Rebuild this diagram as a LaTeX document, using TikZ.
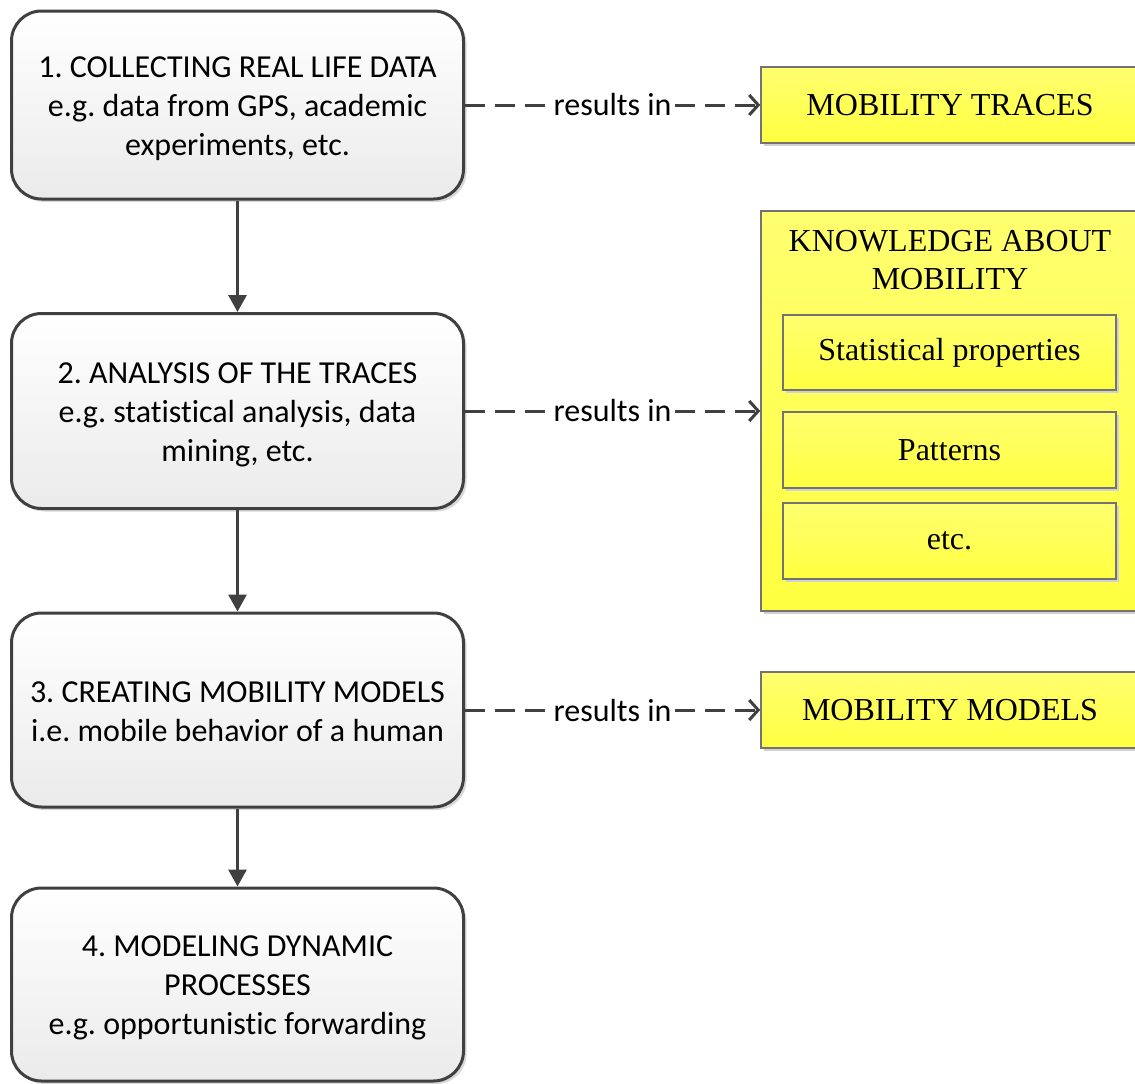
\documentclass[tikz,border=0pt]{standalone}
\usepackage{fontspec}
\setmainfont{Liberation Serif}
\newfontfamily\calib[Ligatures=NoCommon]{Carlito}
\usetikzlibrary{arrows.meta,shadows}
\frenchspacing
\definecolor{edge}{HTML}{404040}
\definecolor{ytop}{HTML}{FFFF70}
\definecolor{ybot}{HTML}{FFFF40}
\tikzset{
  stepbox/.style={rounded corners=30pt, draw=edge, line width=3pt,
    top color=white, bottom color=black!8,
    drop shadow={shadow xshift=3pt, shadow yshift=-3pt, fill=black!15, opacity=1},
    minimum width=452pt, inner sep=0pt},
  steptext/.style={align=center, font=\calib\fontsize{32}{39}\selectfont,
    inner sep=0pt, yshift=-3.5pt},
  outbox/.style={draw=black!55, line width=1.5pt, top color=ytop, bottom color=ybot,
    drop shadow={shadow xshift=3pt, shadow yshift=-3pt, fill=black!18, opacity=1},
    align=center, font=\fontsize{32}{38}\selectfont, inner sep=0pt},
  flow/.style={draw=edge, line width=3pt, -{Triangle[length=17pt,width=18pt]}},
  res/.style={draw=edge, line width=3pt, dash pattern=on 20pt off 10pt,
    -{Straight Barb[length=9pt,width=20pt,line width=3pt]}},
  lbl/.style={fill=white, inner sep=1pt, font=\calib\fontsize{32}{39}\selectfont}
}
\begin{document}
\begin{tikzpicture}[x=1pt,y=-1pt]
\useasboundingbox (0,0) rectangle (1135,1084);
% process steps
\node[stepbox, minimum height=188pt, label={[steptext]center:{1. COLLECTING REAL LIFE DATA\\e.g. data from GPS, academic\\experiments, etc.}}] (s1) at (237.5,105) {};
\node[stepbox, minimum height=195pt, label={[steptext]center:{2. ANALYSIS OF THE TRACES\\e.g. statistical analysis, data\\mining, etc.}}] (s2) at (237.5,411) {};
\node[stepbox, minimum height=194pt, label={[steptext,yshift=2pt]center:{3. CREATING MOBILITY MODELS\\i.e. mobile behavior of a human}}] (s3) at (237.5,710) {};
\node[stepbox, minimum height=193pt, label={[steptext]center:{4. MODELING DYNAMIC\\PROCESSES\\e.g. opportunistic forwarding}}] (s4) at (237.5,984.5) {};
% results
\node[outbox, minimum width=378pt, minimum height=76pt] (r1) at (950,105) {MOBILITY TRACES};
\node[outbox, minimum width=378pt, minimum height=400pt] (r2) at (950,411) {};
\node[align=center, font=\fontsize{32}{38}\selectfont, inner sep=0pt] (r2t) at (950,260)
  {KNOWLEDGE ABOUT\\MOBILITY};
\node[outbox, minimum width=333pt, minimum height=75pt] (k1) at (949.5,352.5) {Statistical properties};
\node[outbox, minimum width=333pt, minimum height=76pt] (k2) at (949.5,450) {Patterns};
\node[outbox, minimum width=333pt, minimum height=76pt] (k3) at (949.5,541) {etc.};
\node[outbox, minimum width=378pt, minimum height=76pt] (r3) at (950,710) {MOBILITY MODELS};
% connectors
\draw[flow] (s1) -- (s2);
\draw[flow] (s2) -- (s3);
\draw[flow] (s3) -- (s4);
\draw[res] (s1.east) -- node[lbl] {results in} (r1.west);
\draw[res] (s2.east) -- node[lbl] {results in} (r2.west);
\draw[res] (s3.east) -- node[lbl] {results in} (r3.west);
\end{tikzpicture}
\end{document}
